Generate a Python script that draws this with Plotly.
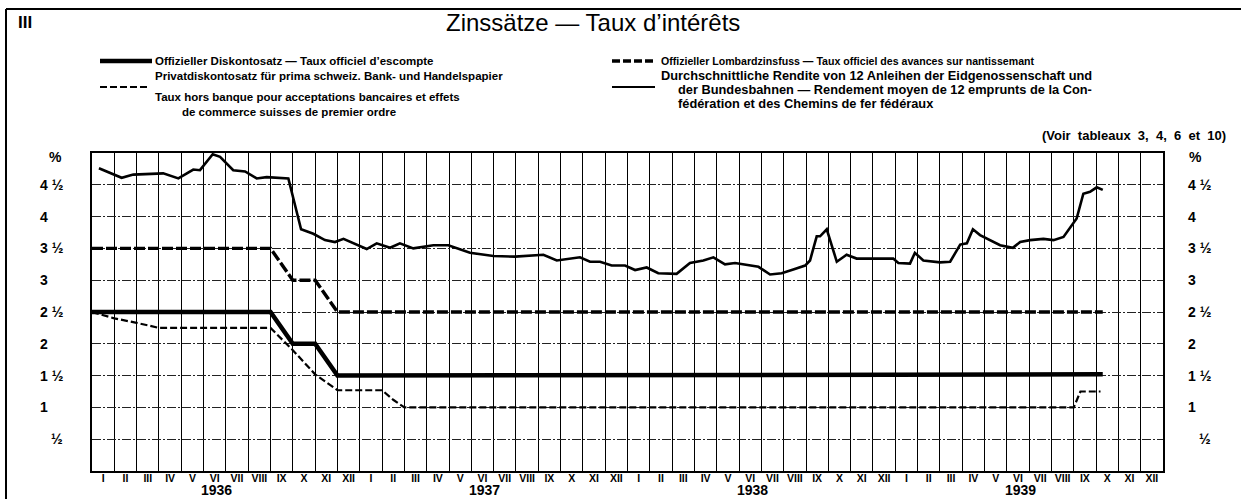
import plotly.graph_objects as go

W, H = 1241, 499
L, R, T, B = 92, 1163, 153, 471

def px(x):
    return (x - L) / (R - L)

def py(y):
    return (B - y) / (B - T)

# ---------------- data ----------------
years = ["1936", "1937", "1938", "1939"]
month_names = ["I", "II", "III", "IV", "V", "VI", "VII", "VIII", "IX", "X", "XI", "XII"]
ytick_vals = [4.5, 4, 3.5, 3, 2.5, 2, 1.5, 1, 0.5]
ytick_text = ["4 ½", "4", "3 ½", "3", "2 ½", "2", "1 ½", "1", "½"]

# x = months elapsed since 1 Jan 1936
disc_x = [0, 8, 9, 10, 11, 45.3]
disc_y = [2.5, 2.5, 2.0, 2.0, 1.5, 1.52]

lomb_x = [0, 8, 9, 10, 11, 45.3]
lomb_y = [3.5, 3.5, 3.0, 3.0, 2.5, 2.5]

priv_x = [0, 1, 2, 3, 8, 9, 10, 11, 13, 13.5, 14, 44.0, 44.3, 45.2]
priv_y = [2.5, 2.4, 2.33, 2.25, 2.25, 1.9, 1.52, 1.27, 1.27, 1.12, 1.0, 1.0, 1.25, 1.25]

yield_x = [0.31, 1.33, 1.85, 3.19, 3.87, 4.54, 4.84, 5.41, 5.74, 6.33, 6.86, 7.38, 7.83,
           8.80, 9.37, 9.92, 10.44, 10.89, 11.27, 11.71, 12.31, 12.76, 13.36, 13.80, 14.40,
           15.30, 15.97, 16.94, 17.99, 18.96, 20.23, 20.83, 21.87, 22.32, 22.77, 23.29,
           23.89, 24.34, 24.86, 25.38, 26.20, 26.80, 27.40, 27.85, 28.37, 28.82, 29.87,
           30.39, 30.91, 31.43, 31.96, 32.18, 32.48, 32.63, 32.93, 33.38, 33.82, 34.27,
           35.91, 36.14, 36.66, 36.88, 37.26, 38.01, 38.46, 38.91, 39.21, 39.48, 39.80,
           40.70, 41.27, 41.60, 42.04, 42.64, 43.09, 43.54, 43.91, 44.13, 44.43, 44.73,
           45.03, 45.30]
yield_y = [4.76, 4.61, 4.66, 4.68, 4.60, 4.74, 4.73, 4.98, 4.94, 4.73, 4.71, 4.60, 4.62,
           4.60, 3.80, 3.73, 3.63, 3.60, 3.65, 3.58, 3.49, 3.58, 3.51, 3.58, 3.50,
           3.55, 3.55, 3.43, 3.38, 3.37, 3.40, 3.31, 3.36, 3.29, 3.29, 3.23,
           3.23, 3.16, 3.20, 3.11, 3.10, 3.27, 3.31, 3.36, 3.25, 3.27, 3.21,
           3.09, 3.11, 3.17, 3.23, 3.31, 3.69, 3.69, 3.80, 3.29, 3.40, 3.34,
           3.34, 3.27, 3.26, 3.43, 3.31, 3.28, 3.29, 3.56, 3.58, 3.80, 3.71,
           3.55, 3.51, 3.60, 3.63, 3.65, 3.63, 3.68, 3.86, 3.97, 4.36, 4.39,
           4.46, 4.42]

# --------------------------------------
FONT = "Liberation Sans Narrow, Arial Narrow, Liberation Sans, Arial, sans-serif"
FONT_W = "Liberation Sans, Arial, sans-serif"

fig = go.Figure()
fig.add_trace(go.Scatter(x=yield_x, y=yield_y, mode="lines",
                         line=dict(color="black", width=2.6), hoverinfo="skip"))
fig.add_trace(go.Scatter(x=lomb_x, y=lomb_y, mode="lines",
                         line=dict(color="black", width=3.4, dash="11px,3px"), hoverinfo="skip"))
fig.add_trace(go.Scatter(x=priv_x, y=priv_y, mode="lines",
                         line=dict(color="black", width=2.2, dash="7px,3px"), hoverinfo="skip"))
fig.add_trace(go.Scatter(x=disc_x, y=disc_y, mode="lines",
                         line=dict(color="black", width=4.5), hoverinfo="skip"))

tickvals = [i + 0.5 for i in range(48)]
ticktext = ["<b>%s</b>" % m for m in month_names * 4]

fig.update_xaxes(range=[0, 48], tickvals=tickvals, ticktext=ticktext, ticks="",
                 showgrid=False, zeroline=False, showline=True, mirror=True,
                 linecolor="black", linewidth=2, ticklabelstandoff=-4,
                 tickfont=dict(family=FONT, size=10.5, color="black"),
                 minor=dict(tickvals=list(range(1, 48)), showgrid=True,
                            gridcolor="black", gridwidth=1.2, ticks=""))
fig.update_yaxes(range=[0, 5], tickvals=ytick_vals, showticklabels=False, ticks="",
                 showgrid=True, gridcolor="#222", gridwidth=1, griddash="9px,2px,2px,2px",
                 zeroline=False, showline=True, mirror=True, linecolor="black", linewidth=2)

ann = []
# y labels both sides
for v, t in zip(ytick_vals, ytick_text):
    xl = 38 if t != "½" else 49
    xr = 1186 if t != "½" else 1197
    for xx in (xl, xr):
        ann.append(dict(x=px(xx), xref="paper", y=v, yref="y", text="<b>%s</b>" % t,
                        showarrow=False, xanchor="left", yanchor="middle",
                        font=dict(family=FONT_W, size=14, color="black")))
for xx in (47, 1187):
    ann.append(dict(x=px(xx), xref="paper", y=py(157), yref="paper", text="<b>%</b>",
                    showarrow=False, xanchor="left", yanchor="middle",
                    font=dict(family=FONT_W, size=14, color="black")))
# years
for k, yr in enumerate(years):
    ann.append(dict(x=12 * k + 5.6, xref="x", y=py(490), yref="paper", text="<b>%s</b>" % yr,
                    showarrow=False, xanchor="center", yanchor="middle",
                    font=dict(family=FONT_W, size=14, color="black")))

def txt(x, y, s, size=11.5, anchor="left", fam=FONT, bold=True):
    ann.append(dict(x=px(x), xref="paper", y=py(y), yref="paper",
                    text=("<b>%s</b>" % s) if bold else s, showarrow=False,
                    xanchor=anchor, yanchor="middle",
                    font=dict(family=fam, size=size, color="black")))

NB = "\u00a0"
txt(593, 22, "Zinssätze — Taux d’intérêts", size=24, anchor="center", fam=FONT_W, bold=False)
txt(16, 22, "III", size=17, fam=FONT_W)
txt(153, 61, "Offizieller Diskontosatz — Taux officiel d’escompte")
txt(153, 76, "Privatdiskontosatz für prima schweiz. Bank- und Handelspapier")
txt(153, 97, "Taux hors banque pour acceptations bancaires et effets")
txt(180, 112, "de commerce suisses de premier ordre")
txt(659, 61, "Offizieller Lombardzinsfuss — Taux officiel des avances sur nantissemant", size=10.6)
txt(659, 76, "Durchschnittliche Rendite von 12 Anleihen der Eidgenossenschaft und", size=12.8)
txt(676, 90, "der Bundesbahnen — Rendement moyen de 12 emprunts de la Con-", size=12.8)
txt(676, 104, "fédération et des Chemins de fer fédéraux", size=12.8)
txt(1228, 135, ("(Voir" + NB * 2 + "tableaux" + NB * 2 + "3," + NB * 2 + "4," + NB * 2 + "6"
                + NB * 2 + "et" + NB * 2 + "10)"), anchor="right", size=13, fam=FONT_W)

shapes = [
    dict(type="line", xref="paper", yref="paper", x0=px(100), x1=px(152), y0=py(61), y1=py(61),
         line=dict(color="black", width=4.5)),
    dict(type="line", xref="paper", yref="paper", x0=px(100), x1=px(148), y0=py(87), y1=py(87),
         line=dict(color="black", width=2.2, dash="7px,3px")),
    dict(type="line", xref="paper", yref="paper", x0=px(612), x1=px(653), y0=py(61), y1=py(61),
         line=dict(color="black", width=3.4, dash="8px,3px")),
    dict(type="line", xref="paper", yref="paper", x0=px(612), x1=px(655), y0=py(87), y1=py(87),
         line=dict(color="black", width=2)),
    # outer frame
    dict(type="line", xref="paper", yref="paper", x0=px(6), x1=px(6), y0=py(9), y1=py(499),
         line=dict(color="black", width=2)),
    dict(type="line", xref="paper", yref="paper", x0=px(6), x1=px(1241), y0=py(9), y1=py(9),
         line=dict(color="black", width=2)),
]

fig.update_layout(width=W, height=H, margin=dict(l=L, r=W - R, t=T, b=H - B),
                  paper_bgcolor="white", plot_bgcolor="white", showlegend=False,
                  annotations=ann, shapes=shapes)

fig.write_html("out.html", config={"displayModeBar": False},
               post_script="document.body.style.margin='0px';document.body.style.overflow='hidden';")
